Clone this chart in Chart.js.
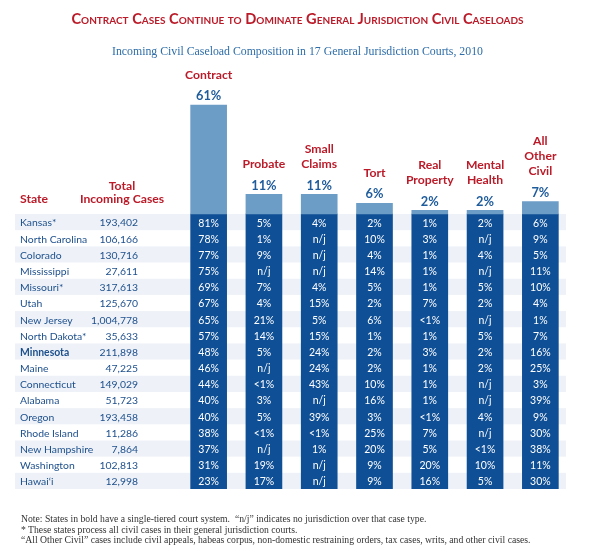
<!DOCTYPE html>
<html>
<head>
<meta charset="utf-8">
<script src="https://cdn.jsdelivr.net/npm/chart.js@4/dist/chart.umd.min.js"></script>
<style>
  body { margin: 0; background: #fff; }
  #wrap { position: relative; width: 595px; height: 556px; overflow: hidden; }
  #chart { position: absolute; left: 0; top: 0; }
  #title {
    position: absolute; left: 0; top: 10px; width: 595px; text-align: center;
    font: bold 14.6px Lato, sans-serif; font-variant: small-caps; color: #bb1a28;
  }
  #sub {
    position: absolute; left: 0; top: 44px; width: 595px; text-align: center;
    font: 11.8px "Liberation Serif", serif; color: #2e6da8;
  }
  #notes {
    position: absolute; left: 21px; top: 514px;
    font: 9.7px/10.6px "Liberation Serif", serif; color: #333;
    white-space: pre;
  }
</style>
</head>
<body>
<div id="wrap">
  <canvas id="chart" width="595" height="556"></canvas>
  <div id="title">Contract Cases Continue to Dominate General Jurisdiction Civil Caseloads</div>
  <div id="sub">Incoming Civil Caseload Composition in 17 General Jurisdiction Courts, 2010</div>
  <div id="notes">Note: States in bold have a single-tiered court system.  “n/j” indicates no jurisdiction over that case type.
* These states process all civil cases in their general jurisdiction courts.
“All Other Civil” cases include civil appeals, habeas corpus, non-domestic restraining orders, tax cases, writs, and other civil cases.</div>
</div>
<script>
// case types and overall share across the 17 courts
const categories = ['Contract', 'Probate', 'Small Claims', 'Tort', 'Real Property', 'Mental Health', 'All Other Civil'];
const categoryLines = [['Contract'], ['Probate'], ['Small', 'Claims'], ['Tort'], ['Real', 'Property'], ['Mental', 'Health'], ['All', 'Other', 'Civil']];
const overallShare = [61, 11, 11, 6, 2, 2, 7];

// table rows
const states = ['Kansas*', 'North Carolina', 'Colorado', 'Mississippi', 'Missouri*', 'Utah', 'New Jersey', 'North Dakota*',
  'Minnesota', 'Maine', 'Connecticut', 'Alabama', 'Oregon', 'Rhode Island', 'New Hampshire', 'Washington', 'Hawai‘i'];
const boldStates = ['Minnesota'];
const totals = ['193,402', '106,166', '130,716', '27,611', '317,613', '125,670', '1,004,778', '35,633',
  '211,898', '47,225', '149,029', '51,723', '193,458', '11,286', '7,864', '102,813', '12,998'];

// per state share, one array per case type
const contract = ['81%', '78%', '77%', '75%', '69%', '67%', '65%', '57%', '48%', '46%', '44%', '40%', '40%', '38%', '37%', '31%', '23%'];
const probate = ['5%', '1%', '9%', 'n/j', '7%', '4%', '21%', '14%', '5%', 'n/j', '<1%', '3%', '5%', '<1%', 'n/j', '19%', '17%'];
const smallClaims = ['4%', 'n/j', 'n/j', 'n/j', '4%', '15%', '5%', '15%', '24%', '24%', '43%', 'n/j', '39%', '<1%', '1%', 'n/j', 'n/j'];
const tort = ['2%', '10%', '4%', '14%', '5%', '2%', '6%', '1%', '2%', '2%', '10%', '16%', '3%', '25%', '20%', '9%', '9%'];
const realProperty = ['1%', '3%', '1%', '1%', '1%', '7%', '<1%', '1%', '3%', '1%', '1%', '1%', '<1%', '7%', '5%', '20%', '16%'];
const mentalHealth = ['2%', 'n/j', '4%', 'n/j', '5%', '2%', 'n/j', '5%', '2%', '2%', 'n/j', 'n/j', '4%', 'n/j', '<1%', '10%', '5%'];
const allOther = ['6%', '9%', '5%', '11%', '10%', '4%', '1%', '7%', '16%', '25%', '3%', '39%', '9%', '30%', '38%', '11%', '30%'];
const columns = [contract, probate, smallClaims, tort, realProperty, mentalHealth, allOther];

const RED = '#bb1a28';
const BLUE_TEXT = '#1d4f8c';
const ROW = 9.05; // one table row in y units
const TABLE_FLOOR = -states.length * ROW;

const tablePlugin = {
  id: 'tablePlugin',
  beforeDatasetsDraw(chart) {
    const ctx = chart.ctx;
    const y = chart.scales.y;
    ctx.save();
    // striped rows
    ctx.fillStyle = '#eef2f8';
    states.forEach((s, i) => {
      if (i % 2 !== 0) return;
      const top = y.getPixelForValue(-i * ROW);
      const bottom = y.getPixelForValue(-(i + 1) * ROW);
      ctx.fillRect(15, top, chart.chartArea.right - 2 - 15, bottom - top);
    });
    // headers
    ctx.fillStyle = RED;
    ctx.font = 'bold 12.2px Lato, sans-serif';
    ctx.textBaseline = 'middle';
    ctx.textAlign = 'left';
    ctx.fillText('State', 20, 199);
    ctx.textAlign = 'center';
    ctx.fillText('Total', 122, 186);
    ctx.fillText('Incoming Cases', 122, 199);
    ctx.restore();
  },
  afterDatasetsDraw(chart) {
    const ctx = chart.ctx;
    const y = chart.scales.y;
    const bars = chart.getDatasetMeta(0).data;
    ctx.save();
    ctx.textBaseline = 'middle';
    ctx.textAlign = 'center';
    bars.forEach((bar, i) => {
      // share above the bar
      ctx.fillStyle = '#1f5c9c';
      ctx.font = 'bold 12.8px Lato, sans-serif';
      ctx.fillText(overallShare[i] + '%', bar.x, bar.y - 9);
      // case type name
      ctx.fillStyle = RED;
      ctx.font = 'bold 12.2px Lato, sans-serif';
      const lines = categoryLines[i];
      lines.forEach((line, k) => {
        ctx.fillText(line, bar.x, bar.y - 30 - (lines.length - 1 - k) * 15);
      });
      // per state values in the dark column
      ctx.fillStyle = '#ffffff';
      ctx.font = '10.5px Lato, sans-serif';
      columns[i].forEach((v, r) => {
        ctx.fillText(v, bar.x, y.getPixelForValue(-(r + 0.5) * ROW) + 1);
      });
    });
    // state names and totals
    states.forEach((s, r) => {
      const cy = y.getPixelForValue(-(r + 0.5) * ROW) + 1;
      ctx.fillStyle = BLUE_TEXT;
      ctx.font = (boldStates.includes(s) ? 'bold ' : '') + '10.4px Lato, sans-serif';
      ctx.textAlign = 'left';
      ctx.fillText(s, 20, cy);
      ctx.font = '10.4px Lato, sans-serif';
      ctx.textAlign = 'right';
      ctx.fillText(totals[r], 138, cy);
    });
    ctx.restore();
  }
};

const ctx = document.getElementById('chart').getContext('2d');
const chart = new Chart(ctx, {
  type: 'bar',
  data: {
    labels: categories,
    datasets: [{
      label: 'Share of incoming civil cases',
      data: overallShare,
      backgroundColor: '#6c9dc7',
      barThickness: 36,
      grouped: false
    }, {
      label: 'Table column',
      data: categories.map(() => [TABLE_FLOOR, 0]),
      backgroundColor: '#0f4f95',
      barThickness: 36,
      grouped: false
    }]
  },
  options: {
    responsive: false,
    animation: false,
    layout: { padding: { left: 181, right: 27, top: 100, bottom: 67 } },
    scales: {
      x: { display: false },
      y: { display: false, min: TABLE_FLOOR, max: 63.8 }
    },
    plugins: {
      legend: { display: false },
      tooltip: { enabled: false }
    }
  },
  plugins: [tablePlugin]
});
</script>
</body>
</html>
